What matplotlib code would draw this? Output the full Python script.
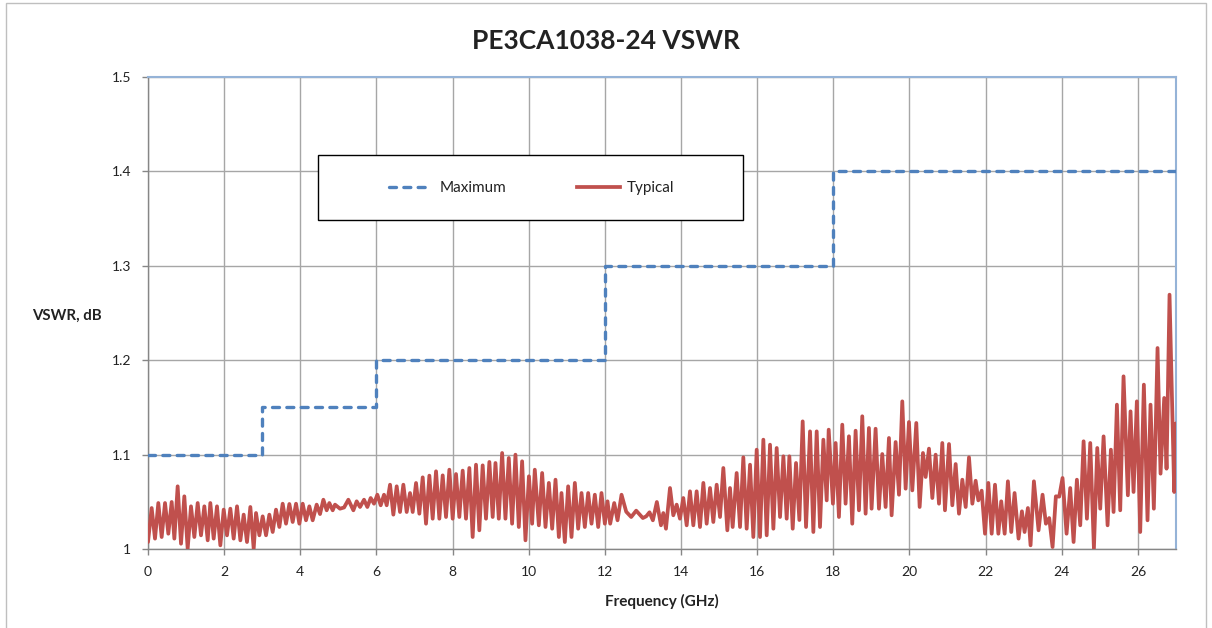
import matplotlib
matplotlib.use("Agg")
import matplotlib.pyplot as plt
from matplotlib.patches import Rectangle
from matplotlib.lines import Line2D

plt.rcParams['font.family'] = ['Lato', 'DejaVu Sans']

# ---------------- data ----------------
title = "PE3CA1038-24 VSWR"
x_label = "Frequency (GHz)"
y_label = "VSWR, dB"

x_ticks = [0, 2, 4, 6, 8, 10, 12, 14, 16, 18, 20, 22, 24, 26]
y_ticks = [1.0, 1.1, 1.2, 1.3, 1.4, 1.5]
y_tick_labels = ["1", "1.1", "1.2", "1.3", "1.4", "1.5"]

max_freq = [0, 3, 6, 12, 18, 27]
max_vswr = [1.10, 1.15, 1.20, 1.30, 1.40, 1.40]

typ_freq = [
    0.0, 0.096, 0.184, 0.271, 0.359, 0.447, 0.534, 0.622, 0.692, 0.779,
    0.867, 0.954, 1.042, 1.129, 1.217, 1.305, 1.392, 1.48, 1.568, 1.637,
    1.725, 1.812, 1.9, 1.988, 2.075, 2.163, 2.25, 2.338, 2.426, 2.513,
    2.6, 2.688, 2.776, 2.837, 2.925, 3.012, 3.1, 3.187, 3.275, 3.362,
    3.45, 3.537, 3.625, 3.713, 3.8, 3.888, 3.975, 4.063, 4.15, 4.238,
    4.325, 4.43, 4.518, 4.606, 4.693, 4.763, 4.851, 4.912, 5.043, 5.15,
    5.262, 5.394, 5.481, 5.569, 5.674, 5.761, 5.849, 5.936, 6.024, 6.112,
    6.199, 6.269, 6.357, 6.444, 6.532, 6.619, 6.707, 6.794, 6.882, 6.952,
    7.04, 7.127, 7.215, 7.302, 7.39, 7.477, 7.565, 7.652, 7.74, 7.827,
    7.915, 8.002, 8.09, 8.177, 8.265, 8.352, 8.44, 8.527, 8.615, 8.702,
    8.79, 8.877, 8.966, 9.053, 9.126, 9.213, 9.301, 9.388, 9.476, 9.563,
    9.651, 9.739, 9.826, 9.914, 10.005, 10.089, 10.159, 10.265, 10.352, 10.44,
    10.528, 10.615, 10.703, 10.791, 10.86, 10.948, 11.035, 11.123, 11.211, 11.298,
    11.386, 11.473, 11.561, 11.649, 11.736, 11.824, 11.911, 11.999, 12.069, 12.139,
    12.245, 12.332, 12.437, 12.56, 12.691, 12.822, 12.997, 13.085, 13.172, 13.26,
    13.365, 13.473, 13.534, 13.604, 13.71, 13.797, 13.885, 13.972, 14.06, 14.148,
    14.235, 14.323, 14.41, 14.498, 14.586, 14.673, 14.761, 14.848, 14.936, 15.024,
    15.111, 15.216, 15.286, 15.356, 15.461, 15.549, 15.636, 15.724, 15.812, 15.899,
    15.987, 16.074, 16.162, 16.25, 16.337, 16.425, 16.512, 16.6, 16.688, 16.775,
    16.845, 16.933, 17.02, 17.108, 17.195, 17.283, 17.388, 17.475, 17.563, 17.65,
    17.738, 17.826, 17.878, 17.989, 18.06, 18.147, 18.235, 18.322, 18.41, 18.497,
    18.585, 18.673, 18.76, 18.848, 18.935, 19.005, 19.11, 19.198, 19.285, 19.373,
    19.461, 19.531, 19.636, 19.724, 19.811, 19.899, 19.986, 20.074, 20.179, 20.267,
    20.354, 20.424, 20.512, 20.6, 20.687, 20.775, 20.862, 20.932, 21.038, 21.125,
    21.213, 21.3, 21.388, 21.476, 21.563, 21.651, 21.738, 21.808, 21.896, 21.984,
    22.071, 22.159, 22.246, 22.334, 22.41, 22.5, 22.585, 22.673, 22.76, 22.865,
    22.953, 23.023, 23.11, 23.18, 23.268, 23.39, 23.495, 23.583, 23.67, 23.758,
    23.845, 23.933, 24.02, 24.126, 24.222, 24.31, 24.397, 24.485, 24.573, 24.66,
    24.748, 24.844, 24.932, 25.01, 25.098, 25.203, 25.29, 25.36, 25.448, 25.535,
    25.622, 25.736, 25.806, 25.885, 25.972, 26.06, 26.156, 26.252, 26.331, 26.418,
    26.515, 26.594, 26.69, 26.752, 26.83, 26.953, 27.0,
]

typ_vswr = [
    1.0074, 1.0434, 1.011, 1.0487, 1.0127, 1.0487, 1.0162, 1.0498, 1.011, 1.0664,
    1.0056, 1.0558, 1.0003, 1.0452, 1.0127, 1.0487, 1.0145, 1.0452, 1.0092, 1.0487,
    1.011, 1.0452, 1.0039, 1.0417, 1.0145, 1.0427, 1.011, 1.0452, 1.0092, 1.0364,
    1.0074, 1.0445, 1.0003, 1.0381, 1.0145, 1.0346, 1.0145, 1.0364, 1.018, 1.0417,
    1.0233, 1.048, 1.0268, 1.0477, 1.0286, 1.048, 1.0268, 1.048, 1.0304, 1.0452,
    1.0304, 1.047, 1.037, 1.0522, 1.041, 1.0487, 1.041, 1.047, 1.0427, 1.044,
    1.0522, 1.041, 1.0505, 1.0445, 1.0522, 1.0445, 1.054, 1.048, 1.0575, 1.0463,
    1.0575, 1.0463, 1.0681, 1.0364, 1.0664, 1.0392, 1.0681, 1.0392, 1.0593, 1.0392,
    1.0699, 1.0374, 1.0759, 1.0268, 1.0777, 1.0321, 1.0823, 1.0321, 1.078, 1.0339,
    1.084, 1.0321, 1.0794, 1.0339, 1.083, 1.0321, 1.0858, 1.0127, 1.0893, 1.0198,
    1.0886, 1.0321, 1.0922, 1.0339, 1.0911, 1.0321, 1.1017, 1.0321, 1.0964, 1.0268,
    1.0999, 1.0233, 1.0929, 1.0092, 1.077, 1.0268, 1.084, 1.0251, 1.0805, 1.0233,
    1.07, 1.0215, 1.0734, 1.0127, 1.0593, 1.0074, 1.0664, 1.0127, 1.07, 1.0215,
    1.0593, 1.0233, 1.0593, 1.0268, 1.0575, 1.0233, 1.0593, 1.0268, 1.0505, 1.0268,
    1.0487, 1.0304, 1.0575, 1.0395, 1.0339, 1.0406, 1.0328, 1.0346, 1.0389, 1.0304,
    1.0498, 1.0251, 1.0381, 1.0215, 1.0646, 1.0357, 1.047, 1.0321, 1.054, 1.0251,
    1.0611, 1.0251, 1.0611, 1.0233, 1.07, 1.0268, 1.0646, 1.0286, 1.0681, 1.0339,
    1.0858, 1.0198, 1.0646, 1.0233, 1.0805, 1.0233, 1.0971, 1.0215, 1.0893, 1.0127,
    1.1052, 1.0127, 1.1158, 1.0145, 1.1105, 1.0215, 1.107, 1.0339, 1.0982, 1.0321,
    1.0982, 1.0215, 1.0911, 1.0307, 1.1352, 1.0233, 1.1246, 1.018, 1.1246, 1.0233,
    1.1158, 1.0515, 1.1264, 1.048, 1.1123, 1.0339, 1.1317, 1.048, 1.1194, 1.0268,
    1.1253, 1.041, 1.1406, 1.0374, 1.1282, 1.0427, 1.1274, 1.0427, 1.1006, 1.0445,
    1.1176, 1.0357, 1.1133, 1.0575, 1.1564, 1.0639, 1.1345, 1.0621, 1.1335, 1.0445,
    1.1017, 1.0763, 1.1063, 1.054, 1.0999, 1.048, 1.1123, 1.041, 1.1112, 1.0463,
    1.09, 1.0374, 1.0734, 1.0445, 1.0971, 1.048, 1.0723, 1.0515, 1.0618, 1.0162,
    1.07, 1.0162, 1.0681, 1.0162, 1.0505, 1.0162, 1.0717, 1.018, 1.0593, 1.011,
    1.0399, 1.018, 1.0434, 1.0039, 1.0717, 1.0198, 1.0575, 1.0268, 1.0328, 1.0021,
    1.0558, 1.0555, 1.0752, 1.0162, 1.0646, 1.0074, 1.0734, 1.0251, 1.1141, 1.0321,
    1.1123, 1.0003, 1.107, 1.0427, 1.1193, 1.0251, 1.1052, 1.0392, 1.1529, 1.041,
    1.1829, 1.0569, 1.1458, 1.0604, 1.1564, 1.018, 1.1741, 1.0304, 1.1529, 1.0427,
    1.2129, 1.0798, 1.16, 1.0851, 1.2694, 1.0604, 1.1331,
]

series_names = ["Maximum", "Typical"]
max_color = "#4F81BD"
typ_color = "#C0504D"

# ---------------- figure ----------------
W, H = 1212, 628
fig = plt.figure(figsize=(W / 100, H / 100), dpi=100)
fig.patch.set_facecolor("white")

# outer chart border
fig.patches.append(Rectangle((6 / W, -0.05), (1206 - 6) / W, 1.05 - 3 / H,
                             transform=fig.transFigure, fill=False,
                             edgecolor="#BFBFBF", linewidth=1.0))

ax = fig.add_axes([148 / W, 1 - 549 / H, (1176 - 148) / W, (549 - 77) / H])

ax.plot(typ_freq, typ_vswr, color=typ_color, linewidth=2.7,
        solid_joinstyle="round", solid_capstyle="round", zorder=3)
ax.plot(max_freq, max_vswr, color=max_color, linewidth=2.4,
        drawstyle="steps-post", linestyle=(0, (2.1, 2.2)),
        dash_capstyle="round", zorder=4)

ax.set_xlim(0, 27)
ax.set_ylim(1.0, 1.5)
ax.set_xticks(x_ticks)
ax.set_xticklabels([str(t) for t in x_ticks])
ax.set_yticks(y_ticks)
ax.set_yticklabels(y_tick_labels)

ax.grid(True, color="#A6A6A6", linewidth=1.0, zorder=0)
ax.set_axisbelow(True)
for side in ["left", "bottom"]:
    ax.spines[side].set_color("#868686")
    ax.spines[side].set_linewidth(1.0)
for side in ["top", "right"]:
    ax.spines[side].set_color("#95B3D7")
    ax.spines[side].set_linewidth(1.5)

ax.tick_params(axis="both", direction="out", length=4, width=1.0,
               color="#868686", labelsize=10, labelcolor="#222222")
ax.tick_params(axis="x", pad=8)
ax.tick_params(axis="y", pad=8)

fig.text(606 / W, 1 - 41 / H, title, ha="center", va="center",
         fontsize=19, fontweight="bold", color="#222222")
fig.text(662 / W, 1 - 601 / H, x_label, ha="center", va="center",
         fontsize=11, fontweight="bold", color="#222222")
fig.text(32 / W, 1 - 316 / H, y_label, ha="left", va="center",
         fontsize=10.8, fontweight="bold", color="#222222")

# legend box
fig.patches.append(Rectangle((318 / W, 1 - 220 / H), (743 - 318) / W, (220 - 155) / H,
                             transform=fig.transFigure, facecolor="white",
                             edgecolor="black", linewidth=1.0, zorder=5))
handles = [
    Line2D([], [], color=max_color, linewidth=2.4, linestyle=(0, (2.1, 2.2)),
           dash_capstyle="round"),
    Line2D([], [], color=typ_color, linewidth=2.7),
]
leg = fig.legend(handles, series_names, loc="center",
                 bbox_to_anchor=(532 / W, 1 - 188 / H), ncol=2, frameon=False,
                 fontsize=11, handlelength=2.8, handletextpad=0.5,
                 columnspacing=4.6)
leg.set_zorder(6)
for t in leg.get_texts():
    t.set_color("#222222")

fig.savefig("out.png", dpi=100)
